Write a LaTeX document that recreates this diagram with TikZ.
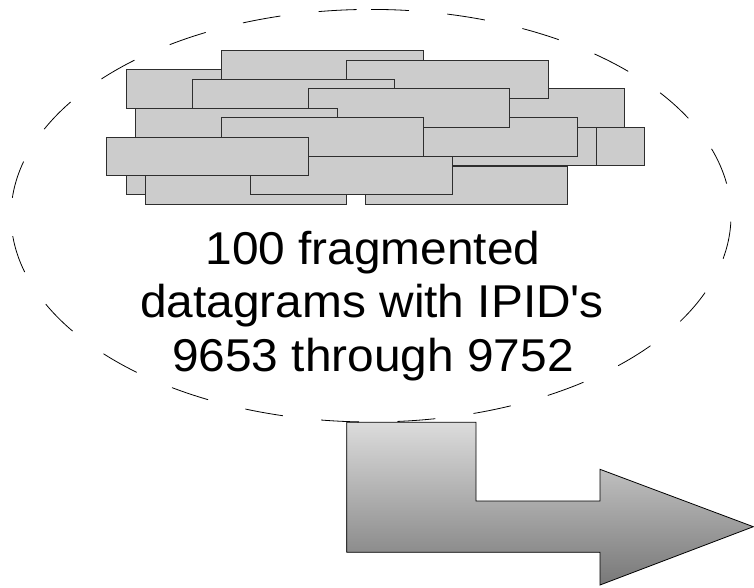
\documentclass[tikz,border=0pt]{standalone}
\usepackage{fontspec}
\setmainfont[FakeStretch=1.04]{Liberation Sans}
\definecolor{fragfill}{HTML}{CCCCCC}
\definecolor{fragline}{HTML}{2E2E2E}
\definecolor{arrtop}{HTML}{DCDCDC}
\definecolor{arrbot}{HTML}{787878}
\newcommand\fragrect[3][201.6]{\draw[fragbox] (#2,#3) rectangle ++(#1,38.3);}
\begin{document}
\begin{tikzpicture}[x=1pt,y=-1pt,
  fragbox/.style={fill=fragfill,draw=fragline,line width=0.9pt},
  ellip/.style={draw=black,line width=0.8pt,dash pattern=on 38pt off 38.5pt},
  bigarrow/.style={draw=black,line width=0.8pt,top color=arrtop,bottom color=arrbot},
  label/.style={inner sep=0pt,anchor=base,font=\fontsize{46}{53}\selectfont}]
\useasboundingbox (0,0) rectangle (754,587);
% fragments, back to front
\fragrect{423.3}{88.7}
\fragrect{126}{69.7}
\fragrect{221.7}{50.7}
\fragrect{346.7}{60}
\fragrect{192.7}{79}
\fragrect{395}{127.3}
\fragrect[47.6]{596.7}{127.3}
\fragrect{375.4}{117.7}
\fragrect{308.3}{88.7}
\fragrect{135.7}{108}
\fragrect{221.7}{117.7}
\fragrect{126}{156}
\fragrect{145}{166}
\fragrect{365.7}{166}
\fragrect{250.7}{156}
\fragrect{106.7}{137}
% bent arrow
\draw[bigarrow] (346.7,422.3) -- (476,422.3) -- (476,501) -- (600,501) -- (600,469.3)
  -- (753.3,526.7) -- (600,585) -- (600,552.3) -- (346.7,552.3) -- cycle;
% dashed ellipse, starting at the top and running clockwise
\draw[ellip] plot[domain=0:360,samples=361] ({371+360*sin(\x)},{215.7-206.3*cos(\x)});
% text
\node[label] (t1) at (373,264.5) {100 fragmented};
\node[label] (t2) at (372,317.5) {datagrams with IPID\textquotesingle s};
\node[label] (t3) at (373,371) {9653 through 9752};
\end{tikzpicture}
\end{document}
